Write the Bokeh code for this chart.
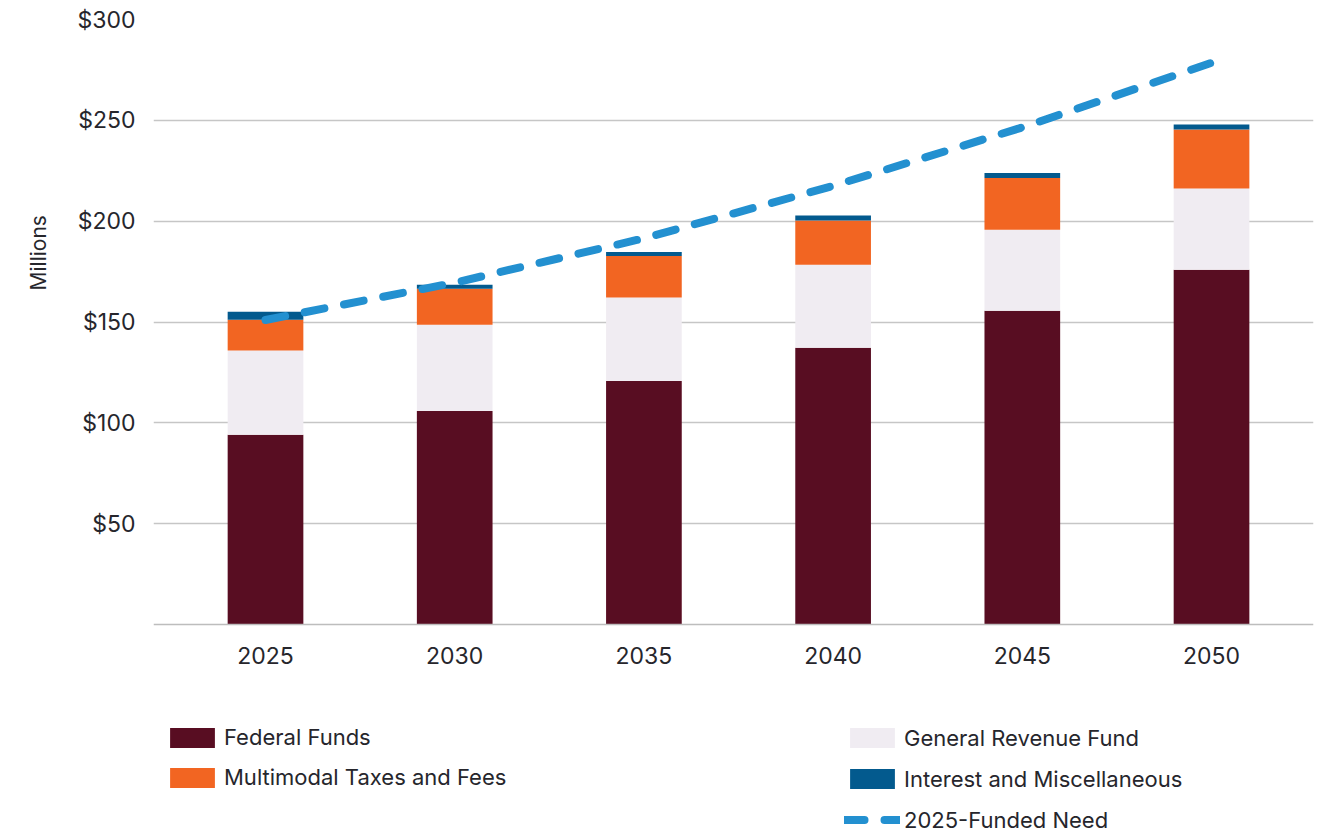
import math
from bokeh.plotting import figure
from bokeh.models import (ColumnDataSource, Range1d, LinearAxis, FixedTicker,
                          NumeralTickFormatter, Legend, LegendItem, Title)
from bokeh.embed import file_html
from bokeh.resources import INLINE

# ---- data ----
years = ["2025", "2030", "2035", "2040", "2045", "2050"]
federal_funds = [94.1, 105.9, 120.8, 137.3, 155.6, 175.9]
general_revenue = [41.8, 42.8, 41.3, 41.1, 40.2, 40.3]
multimodal_taxes = [15.2, 17.8, 20.6, 22.0, 25.6, 29.3]
interest_misc = [4.0, 2.0, 2.0, 2.4, 2.5, 2.5]
funded_need = [151.0, 169.5, 191.5, 217.5, 246.5, 278.5]
y_ticks = [50, 100, 150, 200, 250, 300]

series_names = ["Federal Funds", "General Revenue Fund",
                "Multimodal Taxes and Fees", "Interest and Miscellaneous"]
series_keys = ["federal", "grf", "multimodal", "interest"]
series_colors = ["#580D22", "#F0ECF2", "#F26522", "#035A8E"]
line_color = "#2390D0"
text_color = "#26262C"
grid_color = "#C6C6C6"
FONT = "Inter"

xs = list(range(len(years)))
source = ColumnDataSource(dict(
    x=xs, federal=federal_funds, grf=general_revenue,
    multimodal=multimodal_taxes, interest=interest_misc))
need_source = ColumnDataSource(dict(x=xs, need=funded_need))

p = figure(width=1326, height=834, output_backend="svg", toolbar_location=None,
           x_range=Range1d(-0.592, 5.539), y_range=Range1d(-104.1, 300),
           x_axis_location=None, y_axis_location="left",
           min_border_left=153, min_border_right=13, min_border_top=19,
           min_border_bottom=0)
p.outline_line_color = None
p.background_fill_color = "white"
p.border_fill_color = "white"

bars = p.vbar_stack(series_keys, x="x", width=0.4, source=source,
                    color=series_colors, line_color=None)
need = p.line(x="x", y="need", source=need_source, line_color=line_color,
              line_width=8, line_dash="20 20", line_cap="round")

# y axis
yax = p.yaxis[0]
yax.ticker = FixedTicker(ticks=y_ticks)
yax.formatter = NumeralTickFormatter(format="$0")
yax.axis_line_color = None
yax.major_tick_line_color = None
yax.minor_tick_line_color = None
yax.major_label_standoff = 12
yax.major_label_text_font = FONT
yax.major_label_text_font_size = "23px"
yax.major_label_text_color = text_color

for g in p.xgrid:
    g.visible = False
for g in p.ygrid:
    g.ticker = FixedTicker(ticks=y_ticks)
    g.grid_line_color = grid_color
    g.grid_line_width = 1.5

# x axis fixed at zero
xax = LinearAxis(fixed_location=0, ticker=FixedTicker(ticks=xs),
                 major_label_overrides={i: y for i, y in enumerate(years)})
xax.axis_line_color = "#BDBDBD"
xax.axis_line_width = 1.5
xax.major_tick_line_color = None
xax.minor_tick_line_color = None
xax.major_label_standoff = 16
xax.major_label_text_font = FONT
xax.major_label_text_font_size = "23px"
xax.major_label_text_color = text_color
p.add_layout(xax, "below")

# y label
p.add_layout(Title(text="Millions", align="left", offset=544,
                   vertical_align="middle", standoff=46, text_font=FONT,
                   text_font_size="21px", text_font_style="normal",
                   text_color=text_color), "left")

def make_legend(items, loc, spacing):
    lg = Legend(items=items, location=loc, orientation="vertical",
                glyph_width=56, glyph_height=25, label_standoff=4,
                spacing=spacing, padding=0, margin=0,
                border_line_color=None, background_fill_alpha=0,
                label_text_font=FONT, label_text_font_size="22px",
                label_text_color=text_color)
    return lg

leg1 = make_legend([LegendItem(label=series_names[0], renderers=[bars[0]]),
                    LegendItem(label=series_names[2], renderers=[bars[2]])],
                   (11, 44), 14)
leg2 = make_legend([LegendItem(label=series_names[1], renderers=[bars[1]]),
                    LegendItem(label=series_names[3], renderers=[bars[3]]),
                    LegendItem(label="2025-Funded Need", renderers=[need])],
                   (691, 1.5), 15)
p.add_layout(leg1, "center")
p.add_layout(leg2, "center")

open("out.html", "w").write(file_html(p, INLINE))
